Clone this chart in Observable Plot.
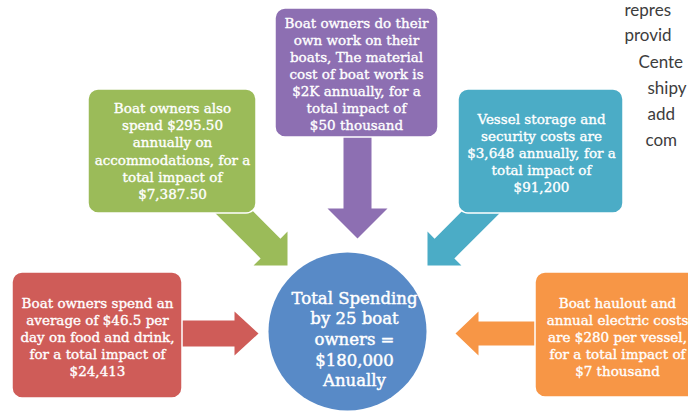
<!DOCTYPE html>
<html><head><meta charset="utf-8">
<script src="https://cdn.jsdelivr.net/npm/d3@7"></script>
<script src="https://cdn.jsdelivr.net/npm/@observablehq/plot@0.6"></script>
<style>html,body{margin:0;padding:0;background:#fff;overflow:hidden;width:688px;height:415px}</style>
</head><body><div id="chart"></div>
<script>
// ---- data ----
const categories = ["Food and drink", "Accommodations", "Boat work materials", "Vessel storage and security", "Haulout and electric"];
const unitCosts = ["$46.5 per day", "$295.50 annually", "$2K annually", "$3,648 annually", "$280 per vessel"];
const totalImpacts = ["$24,413", "$7,387.50", "$50 thousand", "$91,200", "$7 thousand"];
const boxTexts = [
  "Boat owners spend an\naverage of $46.5 per\nday on food and drink,\nfor a total impact of\n$24,413",
  "Boat owners also\nspend $295.50\nannually on\naccommodations, for a\ntotal impact of\n$7,387.50",
  "Boat owners do their\nown work on their\nboats, The material\ncost of boat work is\n$2K annually, for a\ntotal impact of\n$50 thousand",
  "Vessel storage and\nsecurity costs are\n$3,648 annually, for a\ntotal impact of\n$91,200",
  "Boat haulout and\nannual electric costs\nare $280 per vessel,\nfor a total impact of\n$7 thousand"
];
const totalText = "Total Spending\nby 25 boat\nowners =\n$180,000\nAnually";
const sideWords = ["repres", "provid", "Cente", "shipy", "add", "com"];

// ---- styles / layout ----
const colors = ["#cf5c58", "#9bbb59", "#8d6fb2", "#4bacc6", "#f79646"];
const boxRects = [[12, 272, 182, 398], [88, 89, 256, 213], [275, 8, 438, 137], [458, 89, 623, 213], [535, 272, 700, 397]];
const textCenters = [[97, 336], [172, 150], [356, 73], [541, 152], [617, 336]];
const arrowSpecs = [
  {from: [172, 333], to: [258, 333], shaft: 26, head: 44, len: 24},
  {from: [224, 202], to: [287, 265], shaft: 28, head: 48, len: 24},
  {from: [357, 130], to: [357, 238], shaft: 28, head: 60, len: 30},
  {from: [490, 202], to: [427, 265], shaft: 28, head: 48, len: 24},
  {from: [545, 333], to: [455, 333], shaft: 24, head: 44, len: 23}
];
const circleCenter = {x: 347, y: 331, r: 79, color: "#588ac7", tx: 354, ty: 338};
const sidePos = [[624, 15], [624, 40], [638, 67], [647, 93], [647, 119], [645, 145]];

function arrowPoly(a) {
  const [x0, y0] = a.from, [x1, y1] = a.to;
  const L = Math.hypot(x1 - x0, y1 - y0), dx = (x1 - x0) / L, dy = (y1 - y0) / L;
  const nx = -dy, ny = dx, bl = L - a.len;
  const P = (t, w) => ({x: x0 + dx * t + nx * w, y: y0 + dy * t + ny * w});
  return [P(0, a.shaft / 2), P(bl, a.shaft / 2), P(bl, a.head / 2), P(L, 0), P(bl, -a.head / 2), P(bl, -a.shaft / 2), P(0, -a.shaft / 2)];
}

const boxes = categories.map((c, i) => ({
  category: c, unit: unitCosts[i], impact: totalImpacts[i], text: boxTexts[i], color: colors[i],
  x1: boxRects[i][0], y1: boxRects[i][1], x2: boxRects[i][2], y2: boxRects[i][3],
  cx: textCenters[i][0], cy: textCenters[i][1]
}));
const side = sideWords.map((w, i) => ({w, x: sidePos[i][0], y: sidePos[i][1]}));

const marks = [];
arrowSpecs.forEach((a, i) => marks.push(Plot.line(arrowPoly(a), {x: "x", y: "y", fill: colors[i], stroke: "none", curve: "linear-closed"})));
marks.push(Plot.rect(boxes, {x1: "x1", x2: "x2", y1: "y1", y2: "y2", fill: "color", stroke: "white", strokeWidth: 1.5, rx: 10}));
marks.push(Plot.text(boxes, {x: "cx", y: "cy", text: "text", fill: "white", stroke: "white", strokeWidth: 0.35, fontSize: 13.5, fontFamily: "DejaVu Serif", lineHeight: 1.27, textAnchor: "middle"}));
marks.push(Plot.dot([circleCenter], {x: "x", y: "y", r: circleCenter.r, fill: circleCenter.color, stroke: "none"}));
marks.push(Plot.text([circleCenter], {x: "tx", y: "ty", text: () => totalText, fill: "white", stroke: "white", strokeWidth: 0.45, fontSize: 16.5, fontFamily: "DejaVu Serif", lineHeight: 1.25, textAnchor: "middle"}));
marks.push(Plot.text(side, {x: "x", y: "y", text: "w", textAnchor: "start", lineAnchor: "bottom", fill: "#3d3d3d", fontSize: 17, fontFamily: "Lato"}));

const chart = Plot.plot({
  width: 688, height: 415, margin: 0,
  x: {domain: [0, 688], range: [0, 688], axis: null},
  y: {domain: [0, 415], range: [0, 415], axis: null},
  color: {type: "identity"},
  style: {background: "white", overflow: "hidden"},
  marks
});
document.getElementById("chart").appendChild(chart);
</script>
</body></html>
